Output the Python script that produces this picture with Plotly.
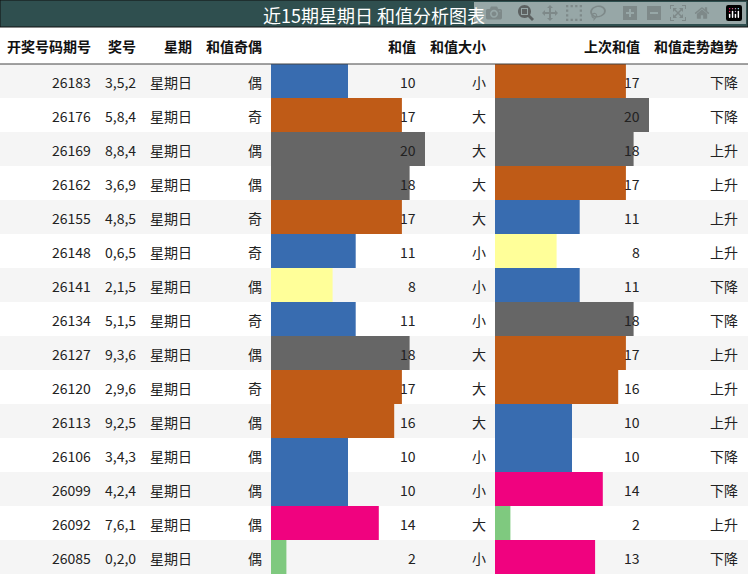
import plotly.graph_objects as go

ids = ["26183","26176","26169","26162","26155","26148","26141","26134","26127","26120","26113","26106","26099","26092","26085"]
nums = ["3,5,2","5,8,4","8,8,4","3,6,9","4,8,5","0,6,5","2,1,5","5,1,5","9,3,6","2,9,6","9,2,5","3,4,3","4,2,4","7,6,1","0,2,0"]
week = ["星期日"] * 15
sums = [10,17,20,18,17,11,8,11,18,17,16,10,10,14,2]
parity = ["偶","奇","偶","偶","奇","奇","偶","奇","偶","奇","偶","偶","偶","偶","偶"]
size = ["小","大","大","大","大","小","小","小","大","大","大","小","小","大","小"]
prev = [17,20,18,17,11,8,11,18,17,16,10,10,14,2,13]
trend = ["下降","下降","上升","上升","上升","上升","下降","下降","上升","上升","上升","下降","下降","上升","下降"]
headers = ["开奖号码期号","奖号","星期","和值奇偶","和值","和值大小","上次和值","和值走势趋势"]

W, H = 748, 575
TOP, RH = 64, 34
PX = 7.7
def col(v):
    if v <= 2: return "#7fc97f"
    if v <= 8: return "#ffff99"
    if v <= 12: return "#386cb0"
    if v <= 15: return "#f0027f"
    if v <= 17: return "#bf5b17"
    return "#666666"

yc = [TOP + RH*i + RH/2 for i in range(15)]
fig = go.Figure()
fig.add_trace(go.Bar(x=sums, y=yc, orientation="h", width=RH, marker=dict(color=[col(v) for v in sums], line_width=0),
                     xaxis="x2", yaxis="y", hoverinfo="skip"))
fig.add_trace(go.Bar(x=prev, y=yc, orientation="h", width=RH, marker=dict(color=[col(v) for v in prev], line_width=0),
                     xaxis="x3", yaxis="y", hoverinfo="skip"))

shapes = [dict(type="rect", xref="paper", yref="y", x0=0, x1=1, y0=0, y1=27, fillcolor="#2f4f4f",
               line=dict(color="#111", width=1), layer="below")]
for i in range(15):
    shapes.append(dict(type="rect", xref="paper", yref="y", x0=0, x1=1, y0=TOP+RH*i, y1=TOP+RH*(i+1),
                       fillcolor="#f5f5f5" if i % 2 == 0 else "#ffffff", line_width=0, layer="below"))
shapes.append(dict(type="line", xref="paper", yref="y", x0=0, x1=1, y0=TOP, y1=TOP, line=dict(color="#444", width=1)))

ann = [dict(text="近15期星期日 和值分析图表", x=374/W, y=15, xref="paper", yref="y", showarrow=False,
            font=dict(size=18, color="white"))]
hx = [93, 138, 194, 264, 418, 488, 642, 740]
for h, x in zip(headers, hx):
    ann.append(dict(text="<b>%s</b>" % h, x=x/W, y=46, xref="paper", yref="y", xanchor="right",
                    showarrow=False, font=dict(size=14, color="#111")))
cols = [ids, nums, week, parity, [str(v) for v in sums], size, [str(v) for v in prev], trend]
for c, x in zip(cols, hx):
    for i, t in enumerate(c):
        ann.append(dict(text=t, x=x/W, y=yc[i]+1, xref="paper", yref="y", xanchor="right",
                        showarrow=False, font=dict(size=14, color="#222")))

fig.update_layout(
    width=W, height=H, margin=dict(l=0, r=0, t=0, b=0), paper_bgcolor="white", plot_bgcolor="rgba(0,0,0,0)",
    showlegend=False, barmode="overlay", shapes=shapes, annotations=ann,
    font=dict(family="Noto Sans CJK SC"),
    xaxis=dict(visible=False, range=[0, 1]),
    xaxis2=dict(visible=False, domain=[271/W, 495/W], range=[0, (495-271)/PX], anchor="y"),
    xaxis3=dict(visible=False, domain=[495/W, 1], range=[0, (W-495)/PX], anchor="y"),
    yaxis=dict(visible=False, range=[H, 0]),
)
fig.write_html("out.html")
with open("out.html", encoding="utf-8") as f:
    html = f.read()
html = html.replace("<head>", "<head><style>html,body{margin:0;padding:0;overflow:hidden;}</style>", 1)
with open("out.html", "w", encoding="utf-8") as f:
    f.write(html)
